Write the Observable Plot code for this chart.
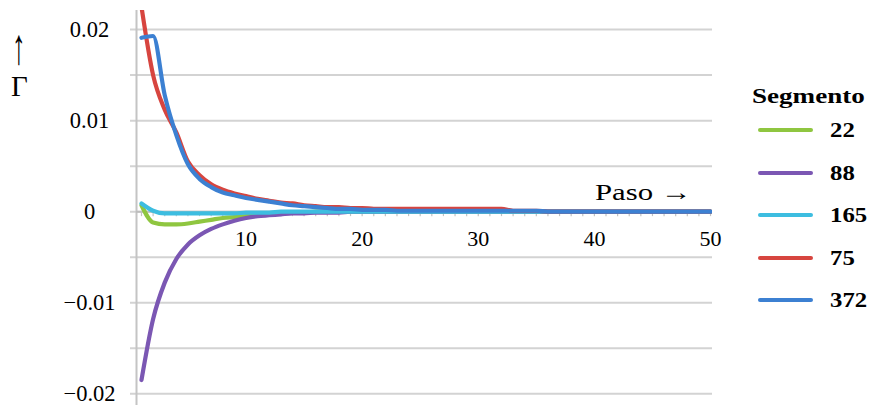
<!DOCTYPE html>
<html>
<head>
<meta charset="utf-8">
<script src="https://cdn.jsdelivr.net/npm/d3@7"></script>
<script src="https://cdn.jsdelivr.net/npm/@observablehq/plot@0.6"></script>
<style>
  body { margin: 0; background: #fff; }
  #wrap { position: relative; width: 877px; height: 405px; font-family: "Liberation Serif", "Times New Roman", serif; color: #000; }
  #wrap svg { position: absolute; left: 0; top: 0; }
  .lbl { position: absolute; white-space: nowrap; line-height: 1; }
  #legend { position: absolute; left: 752px; top: 84px; }
  #legend .title { font-weight: bold; font-size: 22px; line-height: 24px; transform: scaleX(1.23); transform-origin: left center; }
  #legend .row { position: relative; height: 42.5px; }
  #legend .sw { position: absolute; left: 6px; width: 55px; height: 4px; border-radius: 2px; }
  #legend .tx { position: absolute; left: 78px; font-weight: bold; font-size: 21px; line-height: 21px; transform: scaleX(1.18); transform-origin: left center; }
</style>
</head>
<body>
<div id="wrap">
  <div class="lbl" style="left:12px;top:33px;height:15px;font-size:30px;line-height:0.5;transform:scale(0.9,1.7);transform-origin:left top;">↑</div>
  <div class="lbl" style="left:11px;top:73px;font-size:29px;line-height:0.9;">Γ</div>
  <div class="lbl" style="left:595px;top:180px;font-size:24px;transform:scaleX(1.28);transform-origin:left top;">Paso →</div>
  <div id="legend"></div>
</div>
<script>
// Categories (steps)
const steps = d3.range(1, 51);
const segments = ["22", "88", "165", "75", "372"];
const colors = ["#8fc640", "#7b57b3", "#3dbde0", "#d7453f", "#3c80d2"];

// Series values (Γ per step)
const seg22 = [0.0007, -0.0012, -0.0014, -0.0014, -0.0013, -0.0011, -0.0009, -0.0007, -0.0006, -0.0005,
  -0.0004, -0.0003, -0.0002, -0.0001, -0.0001, 0, 0, 0, 0, 0,
  0, 0, 0, 0, 0, 0, 0, 0, 0, 0,
  0, 0, 0, 0, 0, 0, 0, 0, 0, 0,
  0, 0, 0, 0, 0, 0, 0, 0, 0, 0];
const seg88 = [-0.0185, -0.0118, -0.0078, -0.0052, -0.0036, -0.0026, -0.0019, -0.0014, -0.0010, -0.0007,
  -0.0005, -0.0004, -0.0003, -0.0002, -0.0002, -0.0001, -0.0001, -0.0001, 0, 0,
  0, 0, 0, 0, 0, 0, 0, 0, 0, 0,
  0, 0, 0, 0, 0, 0, 0, 0, 0, 0,
  0, 0, 0, 0, 0, 0, 0, 0, 0, 0];
const seg165 = [0.0009, 0.0001, -0.0002, -0.0002, -0.0002, -0.0002, -0.0002, -0.0002, -0.0002, -0.0001,
  -0.0001, -0.0001, 0, 0, 0, 0, 0, 0, 0, 0,
  0, 0, 0, 0, 0, 0, 0, 0, 0, 0,
  0, 0, 0, 0, 0, 0, 0, 0, 0, 0,
  0, 0, 0, 0, 0, 0, 0, 0, 0, 0];
const seg75 = [0.0225, 0.0150, 0.0112, 0.0087, 0.0055, 0.0040, 0.0030, 0.0024, 0.0020, 0.0017,
  0.0014, 0.0012, 0.0010, 0.0009, 0.0007, 0.0006, 0.0005, 0.0005, 0.0004, 0.0004,
  0.0003, 0.0003, 0.0003, 0.0003, 0.0003, 0.0003, 0.0003, 0.0003, 0.0003, 0.0003,
  0.0003, 0.0003, 0.0001, 0.0001, 0.0001, 0, 0, 0, 0, 0,
  0, 0, 0, 0, 0, 0, 0, 0, 0, 0];
const seg372 = [0.0191, 0.0193, 0.0128, 0.0084, 0.0052, 0.0036, 0.0027, 0.0021, 0.0018, 0.0015,
  0.0013, 0.0011, 0.0009, 0.0007, 0.0006, 0.0005, 0.0004, 0.0003, 0.0003, 0.0002,
  0.0002, 0.0002, 0.0001, 0.0001, 0.0001, 0.0001, 0.0001, 0.0001, 0.0001, 0.0001,
  0.0001, 0.0001, 0.0001, 0.0001, 0.0001, 0, 0, 0, 0, 0,
  0, 0, 0, 0, 0, 0, 0, 0, 0, 0];

// Tick labels
const xTickLabels = [10, 20, 30, 40, 50];
const yTickLabels = [0.02, 0.01, 0, -0.01, -0.02];
const gridValues = [0.02, 0.015, 0.01, 0.005, 0, -0.005, -0.01, -0.015, -0.02];

const seriesValues = [seg22, seg88, seg165, seg75, seg372];
const rows = [];
segments.forEach((s, k) => steps.forEach((st, i) => rows.push({seg: s, step: st, value: seriesValues[k][i]})));

const xDomain = [0.57, 50.17];
const fmtY = d => d < 0 ? "\u2212" + String(Math.abs(d)) : String(d);

const chart = Plot.plot({
  width: 877,
  height: 405,
  marginLeft: 136,
  marginRight: 165,
  marginTop: 10,
  marginBottom: 0,
  x: {domain: xDomain, axis: null},
  y: {domain: [-0.0213, 0.0221], axis: null},
  color: {domain: segments, range: colors},
  style: {fontFamily: "'Liberation Serif', 'Times New Roman', serif", fontSize: "22px", background: "transparent", color: "#000", overflow: "visible"},
  marks: [
    Plot.ruleY(gridValues, {stroke: "#d3d3d3", strokeWidth: 2, insetLeft: -6}),
    Plot.ruleX([xDomain[0]], {stroke: "#c4c4c4", strokeWidth: 2}),
    Plot.ruleY([0], {stroke: "#bdbdbd", strokeWidth: 2}),
    Plot.ruleX(steps, {x: d => d, y1: 0, y2: 0, insetBottom: -5, stroke: "#c2c2c2", strokeWidth: 1.2}),
    Plot.line(rows, {x: "step", y: "value", z: "seg", stroke: "seg", strokeWidth: 4.2, curve: "monotone-x", clip: true}),
    Plot.text(xTickLabels, {x: d => d, y: 0, dy: 27, text: d => String(d), fontSize: 22, fill: "#000"}),
    Plot.text(yTickLabels, {y: d => d, frameAnchor: "left", dx: -47, textAnchor: "middle", text: fmtY, fontSize: 22.5, fill: "#000", ariaLabel: "ylabels"})
  ]
});
document.getElementById("wrap").prepend(chart);

// Widen the y tick labels as in the original picture
chart.querySelectorAll('g[aria-label="ylabels"] text').forEach(t => {
  const tr = t.getAttribute("transform") || "";
  t.setAttribute("transform", tr + " scale(1.22,1)");
});

// Legend
const legend = document.getElementById("legend");
const title = document.createElement("div");
title.className = "title";
title.textContent = "Segmento";
legend.appendChild(title);
segments.forEach((s, k) => {
  const row = document.createElement("div");
  row.className = "row";
  row.style.marginTop = k === 0 ? "10px" : "0";
  const sw = document.createElement("div");
  sw.className = "sw";
  sw.style.background = colors[k];
  sw.style.top = "10px";
  const tx = document.createElement("div");
  tx.className = "tx";
  tx.style.top = "2px";
  tx.textContent = s;
  row.appendChild(sw);
  row.appendChild(tx);
  legend.appendChild(row);
});
</script>
</body>
</html>
